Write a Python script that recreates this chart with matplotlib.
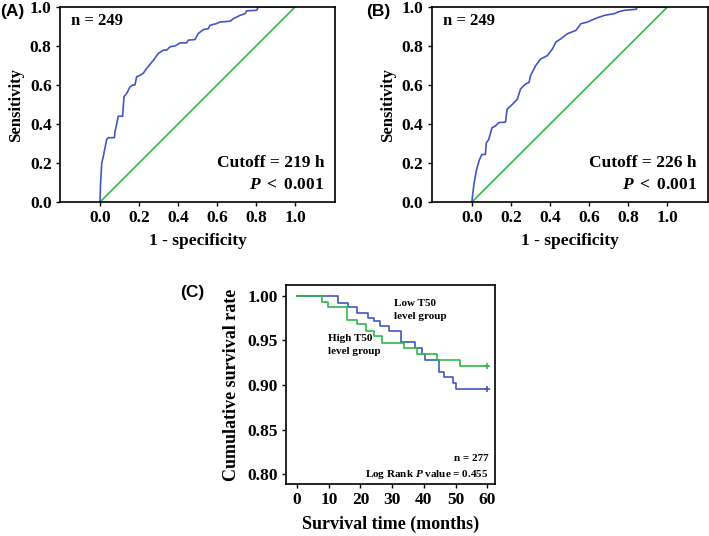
import matplotlib
matplotlib.use("Agg")
import matplotlib.pyplot as plt

plt.rcParams['font.family'] = ['Liberation Serif', 'DejaVu Serif']
plt.rcParams['font.weight'] = 'bold'
plt.rcParams['axes.labelweight'] = 'bold'
plt.rcParams['mathtext.fontset'] = 'custom'
plt.rcParams['mathtext.it'] = 'Liberation Serif:italic:bold'
plt.rcParams['mathtext.rm'] = 'Liberation Serif:bold'

BLUE = '#4257c4'
GREEN = '#2fb84a'

# ROC curve A (1 - specificity, sensitivity)
roc_a_fpr = [0.0, 0.003, 0.009, 0.017, 0.034, 0.043, 0.074, 0.077, 0.094, 0.116, 0.123, 0.137,
             0.154, 0.167, 0.179, 0.188, 0.205, 0.222, 0.239, 0.274, 0.299, 0.325, 0.342, 0.359,
             0.385, 0.41, 0.444, 0.453, 0.487, 0.504, 0.53, 0.556, 0.564, 0.598, 0.615, 0.667,
             0.684, 0.718, 0.744, 0.752, 0.803, 0.812, 1.0]
roc_a_tpr = [0.0, 0.097, 0.2, 0.233, 0.32, 0.33, 0.33, 0.36, 0.44, 0.44, 0.54, 0.557,
             0.59, 0.6, 0.6, 0.642, 0.65, 0.66, 0.685, 0.727, 0.762, 0.779, 0.779, 0.796,
             0.8, 0.816, 0.816, 0.83, 0.833, 0.864, 0.884, 0.889, 0.906, 0.915, 0.923, 0.927,
             0.94, 0.957, 0.966, 0.98, 0.983, 1.0, 1.0]

# ROC curve B
roc_b_fpr = [0.0, 0.005, 0.009, 0.017, 0.026, 0.039, 0.051, 0.069, 0.074, 0.086, 0.103, 0.12,
             0.137, 0.172, 0.18, 0.206, 0.232, 0.249, 0.274, 0.292, 0.3, 0.326, 0.352, 0.369,
             0.386, 0.412, 0.429, 0.455, 0.489, 0.532, 0.557, 0.592, 0.609, 0.643, 0.678, 0.729,
             0.746, 0.78, 0.84, 0.845, 1.0]
roc_b_tpr = [0.0, 0.046, 0.08, 0.13, 0.175, 0.218, 0.244, 0.244, 0.304, 0.32, 0.381, 0.39,
             0.407, 0.41, 0.476, 0.5, 0.527, 0.58, 0.605, 0.613, 0.648, 0.699, 0.734, 0.742,
             0.751, 0.785, 0.82, 0.837, 0.863, 0.88, 0.914, 0.923, 0.931, 0.945, 0.957, 0.966,
             0.974, 0.983, 0.988, 1.0, 1.0]

# Kaplan-Meier steps (months, survival)
low_t = [0, 12.8, 16.0, 19.0, 22.3, 24.3, 26.3, 28.9, 32.9, 37.2, 39.5, 40.4, 44.9, 46.2, 49.2, 50.2, 60]
low_s = [1.0, 0.9925, 0.9877, 0.9806, 0.975, 0.9716, 0.966, 0.961, 0.948, 0.941, 0.9345, 0.928,
         0.915, 0.9086, 0.902, 0.895, 0.895]
high_t = [0, 8.0, 9.9, 15.7, 18.8, 21.7, 24.3, 26.7, 33.7, 37.8, 44.1, 51.3, 60]
high_s = [1.0, 0.9929, 0.987, 0.973, 0.968, 0.9607, 0.955, 0.9476, 0.941, 0.9347, 0.928, 0.921, 0.921]

fig = plt.figure(figsize=(7.09, 5.36), dpi=100)


def roc_panel(rect, fpr, tpr, cutoff, label, label_x):
    ax = fig.add_axes(rect)
    ax.plot([0, 1], [0, 1], color=GREEN, lw=1.2)
    ax.plot(fpr, tpr, color=BLUE, lw=1.2)
    ax.set_xlim(-0.205, 1.205)
    ax.set_ylim(0, 1.0)
    ax.set_xticks([0, 0.2, 0.4, 0.6, 0.8, 1.0])
    ax.set_xticklabels(['0.0', '0.2', '0.4', '0.6', '0.8', '1.0'])
    ax.set_yticks([0, 0.2, 0.4, 0.6, 0.8, 1.0])
    ax.set_yticklabels(['0.0', '0.2', '0.4', '0.6', '0.8', '1.0'])
    ax.tick_params(direction='out', length=3, width=1, labelsize=12.5, pad=3)
    for s in ax.spines.values():
        s.set_linewidth(1.2)
    ax.set_xlabel('1 - specificity', fontsize=12.5, labelpad=5)
    ax.set_ylabel('Sensitivity', fontsize=12, labelpad=4)
    ax.text(0.04, 0.93, 'n = 249', transform=ax.transAxes, fontsize=12, va='center')
    ax.text(0.96, 0.2, 'Cutoff = %s h' % cutoff, transform=ax.transAxes, fontsize=12.5,
            ha='right', va='center')
    ax.text(0.96, 0.085, r'$P$ $<$ 0.001', transform=ax.transAxes, fontsize=12.5,
            ha='right', va='center')
    fig.text(label_x, 0.978, label, family='Liberation Sans', fontsize=12.5,
             weight='bold', va='center')
    return ax


roc_panel([0.0846, 0.623, 0.388, 0.364], roc_a_fpr, roc_a_tpr, '219', '(A)', 0.0)
roc_panel([0.609, 0.623, 0.389, 0.364], roc_b_fpr, roc_b_tpr, '226', '(B)', 366 / 709)

# Panel C: survival curves
ax = fig.add_axes([0.4034, 0.097, 0.295, 0.371])
ax.step(low_t, low_s, where='post', color=BLUE, lw=1.2)
ax.step(high_t, high_s, where='post', color=GREEN, lw=1.2)
ax.plot([low_t[-1]], [low_s[-1]], marker='+', color=BLUE, ms=5, mew=1.2)
ax.plot([high_t[-1]], [high_s[-1]], marker='+', color=GREEN, ms=5, mew=1.2)
ax.set_xlim(-3.5, 62.5)
ax.set_ylim(0.789, 1.012)
ax.set_xticks([0, 10, 20, 30, 40, 50, 60])
ax.set_yticks([0.80, 0.85, 0.90, 0.95, 1.00])
ax.set_yticklabels(['0.80', '0.85', '0.90', '0.95', '1.00'])
ax.tick_params(direction='out', length=3, width=1, labelsize=12.5, pad=3)
for s in ax.spines.values():
    s.set_linewidth(1.2)
ax.set_xlabel('Survival time (months)', fontsize=13, labelpad=5)
ax.set_ylabel('Cumulative survival rate', fontsize=13, labelpad=5)
ax.text(30.7, 0.984, 'Low T50\nlevel group', fontsize=8, va='center', linespacing=1.5)
ax.text(9.9, 0.945, 'High T50\nlevel group', fontsize=8, va='center', linespacing=1.5)
ax.text(0.97, 0.13, 'n = 277', transform=ax.transAxes, fontsize=8, ha='right', va='center')
ax.text(0.97, 0.05, r'Log Rank $P$ value = 0.455', transform=ax.transAxes, fontsize=8,
        ha='right', va='center')
fig.text(180 / 709, 1 - 292 / 536, '(C)', family='Liberation Sans', fontsize=12.5,
         weight='bold', va='center')

fig.savefig('out.png', dpi=100)
